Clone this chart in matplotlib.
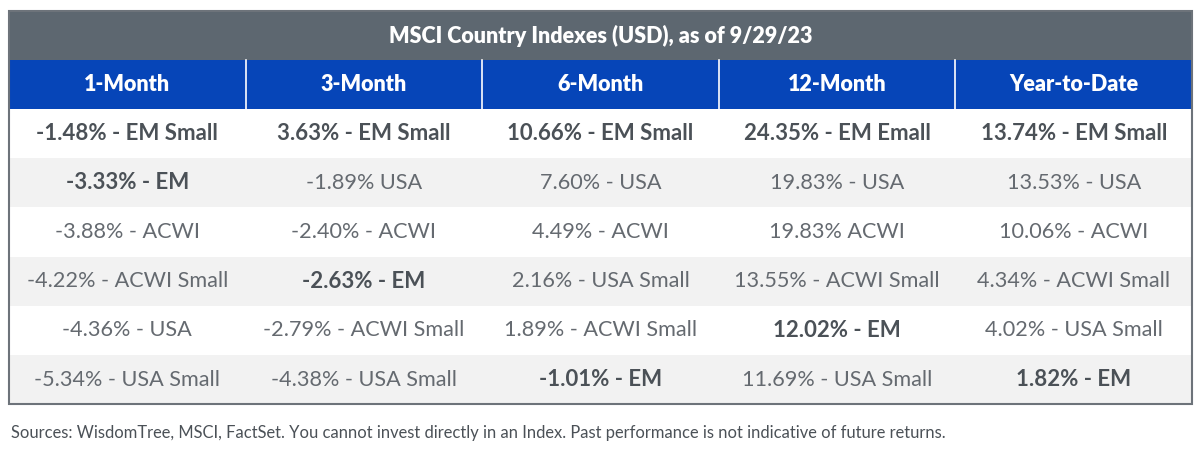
import matplotlib
matplotlib.use("Agg")
import matplotlib.pyplot as plt
from matplotlib.patches import Rectangle

title = "MSCI Country Indexes (USD), as of 9/29/23"
columns = ["1-Month", "3-Month", "6-Month", "12-Month", "Year-to-Date"]
# returns in %, one list per column, ranked top to bottom
returns = [
    [-1.48, -3.33, -3.88, -4.22, -4.36, -5.34],
    [3.63, -1.89, -2.40, -2.63, -2.79, -4.38],
    [10.66, 7.60, 4.49, 2.16, 1.89, -1.01],
    [24.35, 19.83, 19.83, 13.55, 12.02, 11.69],
    [13.74, 13.53, 10.06, 4.34, 4.02, 1.82],
]
names = [
    ["EM Small", "EM", "ACWI", "ACWI Small", "USA", "USA Small"],
    ["EM Small", "USA", "ACWI", "EM", "ACWI Small", "USA Small"],
    ["EM Small", "USA", "ACWI", "USA Small", "ACWI Small", "EM"],
    ["EM Emall", "USA", "ACWI", "ACWI Small", "EM", "USA Small"],
    ["EM Small", "USA", "ACWI", "ACWI Small", "USA Small", "EM"],
]
# the source drops the dash in two cells
separators = [
    [" - "] * 6,
    [" - ", " ", " - ", " - ", " - ", " - "],
    [" - "] * 6,
    [" - ", " - ", " ", " - ", " - ", " - "],
    [" - "] * 6,
]
footnote = ("Sources: WisdomTree, MSCI, FactSet. You cannot invest directly in an Index. "
            "Past performance is not indicative of future returns.")

fam = ["Lato", "DejaVu Sans"]
W, H = 1200, 454
fig = plt.figure(figsize=(12, 4.54), dpi=100)
ax = fig.add_axes([0, 0, 1, 1])
ax.set_xlim(0, W)
ax.set_ylim(H, 0)
ax.axis("off")

left, right = 9, 1192
top = 11
title_h = 49
head_h = 49
row_h = 49.2
ncol = len(columns)
nrow = len(returns[0])
col_w = (right - left) / ncol

# title bar
ax.add_patch(Rectangle((left, top), right - left, title_h, color="#5d6770", lw=0))
ax.text((left + right) / 2, top + title_h / 2, title, ha="center", va="center",
        color="white", fontsize=15.5, fontweight="heavy", family=fam)

# header
hy = top + title_h
ax.add_patch(Rectangle((left, hy), right - left, head_h, color="#0645b8", lw=0))
for j, c in enumerate(columns):
    ax.text(left + col_w * (j + 0.5), hy + head_h / 2, c, ha="center", va="center",
            color="white", fontsize=15.5, fontweight="heavy", family=fam)
    if j > 0:
        ax.plot([left + col_w * j] * 2, [hy, hy + head_h], color="white", lw=1.2)

# body
by = hy + head_h
for i in range(nrow):
    y0 = by + i * row_h
    ax.add_patch(Rectangle((left, y0), right - left, row_h,
                           color="#f2f2f2" if i % 2 else "white", lw=0))
    for j in range(ncol):
        label = f"{returns[j][i]:.2f}%{separators[j][i]}{names[j][i]}"
        bold = "EM" in names[j][i]
        ax.text(left + col_w * (j + 0.5), y0 + row_h / 2, label, ha="center", va="center",
                color="#4b5157" if bold else "#656a70", fontsize=16 if bold else 15.6,
                fontweight="bold" if bold else "normal", family=fam)

bottom = by + nrow * row_h
ax.add_patch(Rectangle((left, top), right - left, bottom - top, fill=False,
                       ec="#6d737a", lw=1.5))

ax.text(left + 2, 433, footnote, ha="left", va="center", color="#4b5157",
        fontsize=11.9, family=fam)

fig.savefig("out.png", dpi=100, facecolor="white")
